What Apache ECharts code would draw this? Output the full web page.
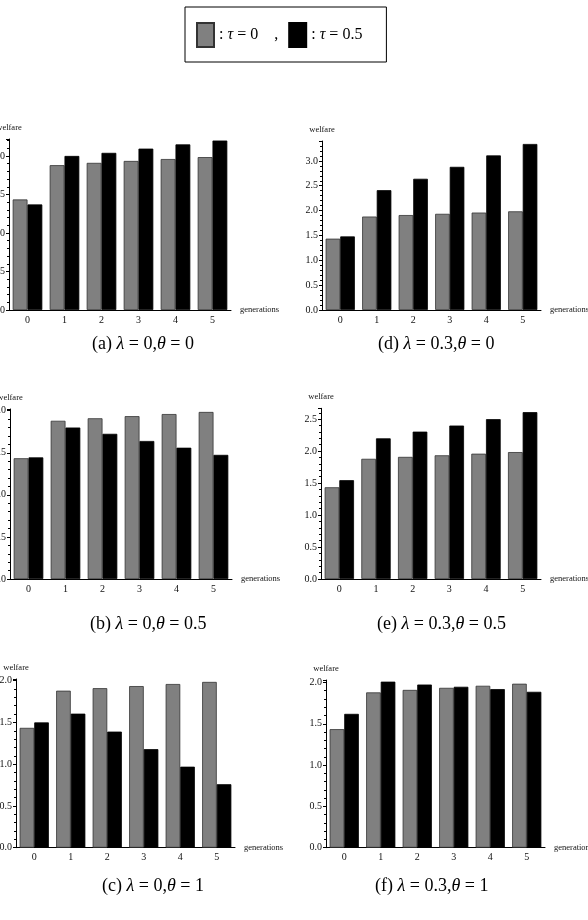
<!DOCTYPE html>
<html>
<head>
<meta charset="utf-8">
<script src="https://cdn.jsdelivr.net/npm/echarts@6/dist/echarts.min.js"></script>
<style>
  html, body { margin: 0; padding: 0; background: #fff; }
  #chart { width: 588px; height: 920px; }
</style>
</head>
<body>
<div id="chart"></div>
<script>
// generations on the x axis
const generations = ['0', '1', '2', '3', '4', '5'];

// welfare with tau = 0 (same in every panel)
const welfareTau0 = [1.435, 1.88, 1.91, 1.935, 1.96, 1.985];

// welfare with tau = 0.5, one array per panel
const tau05A = [1.37, 2.00, 2.04, 2.095, 2.15, 2.20];   // lambda 0, theta 0
const tau05B = [1.445, 1.80, 1.725, 1.64, 1.56, 1.475]; // lambda 0, theta 0.5
const tau05C = [1.50, 1.605, 1.39, 1.18, 0.97, 0.76];   // lambda 0, theta 1
const tau05D = [1.48, 2.41, 2.64, 2.88, 3.11, 3.34];    // lambda 0.3, theta 0
const tau05E = [1.545, 2.20, 2.305, 2.40, 2.50, 2.61];  // lambda 0.3, theta 0.5
const tau05F = [1.62, 2.01, 1.975, 1.948, 1.92, 1.887]; // lambda 0.3, theta 1

const captions = [
  { tag: '(a)', lambda: '0', theta: '0' },
  { tag: '(b)', lambda: '0', theta: '0.5' },
  { tag: '(c)', lambda: '0', theta: '1' },
  { tag: '(d)', lambda: '0.3', theta: '0' },
  { tag: '(e)', lambda: '0.3', theta: '0.5' },
  { tag: '(f)', lambda: '0.3', theta: '1' }
];

const SERIF = '"Liberation Serif", "Times New Roman", serif';
const GRAY = '#808080';

// panel layout (pixels) + y max
const panels = [
  { values: tau05A, left: 9,   top: 139,   width: 222, height: 171,   max: 2.22, capX: 92,  capY: 345 },
  { values: tau05B, left: 10,  top: 409,   width: 222, height: 170,   max: 2.02, capX: 90,  capY: 625 },
  { values: tau05C, left: 16,  top: 679,   width: 219, height: 168.7, max: 2.02, capX: 102, capY: 887 },
  { values: tau05D, left: 322, top: 141,   width: 219, height: 169,   max: 3.40, capX: 378, capY: 345 },
  { values: tau05E, left: 321, top: 408.3, width: 220, height: 170.7, max: 2.67, capX: 377, capY: 625 },
  { values: tau05F, left: 326, top: 680,   width: 219, height: 167.7, max: 2.03, capX: 375, capY: 887 }
];

const chart = echarts.init(document.getElementById('chart'));

const grid = [], xAxis = [], yAxis = [], series = [], graphic = [];

panels.forEach((p, i) => {
  grid.push({ left: p.left, top: p.top, width: p.width, height: p.height, outerBoundsMode: 'none', containLabel: false });
  xAxis.push({
    type: 'category',
    gridIndex: i,
    data: generations,
    name: 'generations',
    nameLocation: 'end',
    nameGap: 9,
    nameTextStyle: { fontFamily: SERIF, fontSize: 8.5, color: '#111' },
    axisLine: { lineStyle: { color: '#000', width: 1 } },
    axisTick: { show: false },
    axisLabel: { fontFamily: SERIF, fontSize: 10, color: '#111', margin: 5 }
  });
  yAxis.push({
    type: 'value',
    gridIndex: i,
    min: 0,
    max: p.max,
    interval: 0.5,
    name: 'welfare',
    nameLocation: 'end',
    nameGap: 7,
    nameTextStyle: { fontFamily: SERIF, fontSize: 8.5, color: '#111' },
    splitLine: { show: false },
    axisLine: { show: true, lineStyle: { color: '#000', width: 1 } },
    axisTick: { show: true, length: 3, lineStyle: { color: '#000' } },
    minorTick: { show: true, splitNumber: 5, length: 2, lineStyle: { color: '#000' } },
    axisLabel: {
      fontFamily: SERIF, fontSize: 10, color: '#111', margin: 4,
      showMaxLabel: false,
      formatter: v => v.toFixed(1)
    }
  });
  series.push({
    name: 'tau0',
    type: 'bar',
    xAxisIndex: i,
    yAxisIndex: i,
    data: welfareTau0,
    barGap: '0%',
    barCategoryGap: '20%',
    itemStyle: { color: GRAY, borderColor: '#333', borderWidth: 0.8 }
  });
  series.push({
    name: 'tau05',
    type: 'bar',
    xAxisIndex: i,
    yAxisIndex: i,
    data: p.values,
    barGap: '0%',
    barCategoryGap: '20%',
    itemStyle: { color: '#000', borderColor: '#000', borderWidth: 0.8 }
  });

  const c = captions[i];
  graphic.push({
    type: 'text',
    left: p.capX,
    top: p.capY - 10,
    style: {
      text: c.tag + ' {g|λ} = ' + c.lambda + ',{g|θ} = ' + c.theta,
      font: '18px ' + SERIF,
      fill: '#000',
      rich: { g: { fontFamily: SERIF, fontSize: 18, fontStyle: 'italic', fill: '#000' } }
    }
  });
});

chart.setOption({
  animation: false,
  backgroundColor: '#fff',
  grid,
  xAxis,
  yAxis,
  series,
  graphic,
  legend: {
    left: 185,
    top: 7,
    padding: [15, 24, 14, 11],
    borderColor: '#000',
    borderWidth: 1,
    icon: 'rect',
    itemWidth: 17,
    itemHeight: 24,
    itemGap: 10,
    data: ['tau0', 'tau05'],
    formatter: name => name === 'tau0' ? ': {t|τ} = 0    ,' : ': {t|τ} = 0.5',
    textStyle: {
      fontFamily: SERIF, fontSize: 16, color: '#000',
      rich: { t: { fontFamily: SERIF, fontSize: 16, fontStyle: 'italic' } }
    }
  }
});
</script>
</body>
</html>
